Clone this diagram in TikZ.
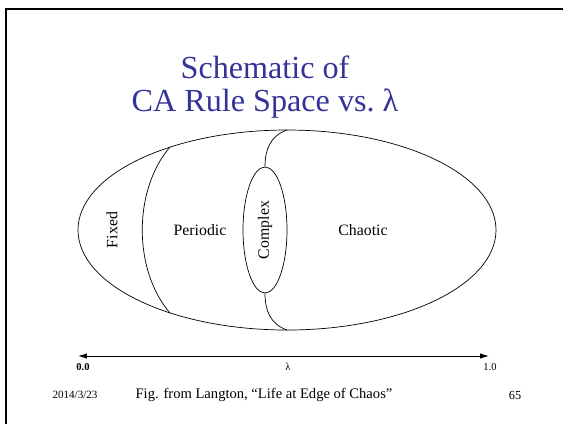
\documentclass[tikz,border=0pt]{standalone}
\usepackage{fontspec}
\setmainfont{Liberation Serif}
\usetikzlibrary{arrows.meta,shapes.geometric}
\definecolor{titleblue}{RGB}{51,51,153}

\begin{document}
\begin{tikzpicture}[>=Latex, x=0.02cm, y=-0.02cm]

% styles
\tikzset{
  frameline/.style={line width=1.1pt},
  region/.style={line width=0.4pt},
  lbl/.style={font=\fontsize{9}{10}\selectfont, inner sep=0pt},
  axislbl/.style={font=\fontsize{6}{7}\selectfont, inner sep=0pt},
  foot/.style={inner sep=0pt},
}

\useasboundingbox (0,0) rectangle (563,424);

% slide frame
\draw[frameline] (6,424) -- (6,9) -- (563,9);

% title
\node[titleblue, align=center, font=\fontsize{18.3}{19}\selectfont] (title) at (265,87)
  {Schematic of\\CA Rule Space vs.\ λ};

% rule space
\draw[region] (287,230) ellipse [x radius=209, y radius=100];

% fixed / periodic boundary
\coordinate (fixtop) at (170,147);
\coordinate (fixbot) at (170,313);
\draw[region] (fixtop) .. controls (133,190) and (133,270) .. (fixbot);

% complex region
\node[draw, ellipse, region, minimum width=0.88cm, minimum height=2.52cm, inner sep=0pt,
  font=\fontsize{9}{10}\selectfont] (complex) at (265,230) {\rotatebox{90}{Complex}};
\coordinate (toppt) at (287,130);
\coordinate (botpt) at (287,330);
\draw[region] (toppt) .. controls (270,136) and (265,150) .. (complex.north);
\draw[region] (complex.south) .. controls (265,310) and (270,324) .. (botpt);

% labels
\node[lbl, rotate=90] (fixed) at (112,230) {Fixed};
\node[lbl] (periodic) at (200,230) {Periodic};
\node[lbl] (chaotic) at (363,230) {Chaotic};

% lambda axis
\coordinate (lo) at (78,356);
\coordinate (hi) at (489,356);
\draw[<->, >={Latex[length=5pt, width=3pt]}, line width=0.5pt] (lo) -- (hi);
\node[axislbl, font=\fontsize{6}{7}\selectfont\bfseries] (zero) at (83,367) {0.0};
\node[axislbl] (lam) at (288,367) {λ};
\node[axislbl] (one) at (490,367) {1.0};

% footer
\node[foot, font=\fontsize{6.3}{7}\selectfont] (date) at (75,395) {2014/3/23};
\node[foot, font=\fontsize{8.3}{9}\selectfont] (src) at (264,395) {Fig. from Langton, “Life at Edge of Chaos”};
\node[foot, font=\fontsize{7}{8}\selectfont] (page) at (515,395) {65};

\end{tikzpicture}
\end{document}
